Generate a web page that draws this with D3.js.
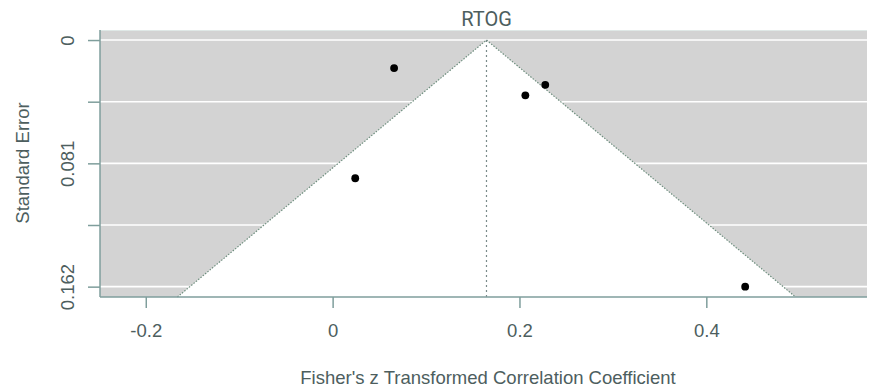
<!DOCTYPE html>
<html>
<head>
<meta charset="utf-8">
<script src="https://cdn.jsdelivr.net/npm/d3@7"></script>
<style>
  html, body { margin: 0; padding: 0; background: #fff; }
  svg { display: block; font-family: "Liberation Sans", Arial, sans-serif; }
</style>
</head>
<body>
<svg id="chart" width="870" height="392"></svg>
<script>
// ---- data ----
const title = "RTOG";
const xLabel = "Fisher's z Transformed Correlation Coefficient";
const yLabel = "Standard Error";
const estimates = [0.0658, 0.2276, 0.2063, 0.0242, 0.4416];
const standardErrors = [0.0184, 0.0294, 0.0363, 0.0908, 0.162];
const pooledEstimate = 0.1647;
const xTicks = [-0.2, 0, 0.2, 0.4];
const xTickLabels = ["-0.2", "0", "0.2", "0.4"];
const yTicks = [0, 0.0405, 0.081, 0.1215, 0.162];
const yTickLabels = ["0", "", "0.081", "", "0.162"];
const xDomain = [-0.249, 0.572];
const yDomain = [-0.0066, 0.1688];

// ---- layout ----
const svg = d3.select("#chart");
const pL = 100, pR = 867, pT = 30, pB = 297;
const x = d3.scaleLinear().domain(xDomain).range([pL, pR]);
const y = d3.scaleLinear().domain(yDomain).range([pT, pB]);
const textColor = "#4d5e5e";
const axisColor = "#7f9e9c";
const fs = 18.5;

// background
svg.append("rect").attr("x", pL).attr("y", pT)
  .attr("width", pR - pL).attr("height", pB - pT)
  .attr("fill", "#d3d3d3");

// gridlines
svg.append("g").selectAll("line").data(yTicks).join("line")
  .attr("x1", pL).attr("x2", pR)
  .attr("y1", d => y(d)).attr("y2", d => y(d))
  .attr("stroke", "#ffffff").attr("stroke-width", 1.6);

// funnel
const seMax = yDomain[1];
const funnel = [
  [pooledEstimate - 1.96 * seMax, seMax],
  [pooledEstimate, 0],
  [pooledEstimate + 1.96 * seMax, seMax]
];
svg.append("path")
  .attr("d", d3.line().x(d => x(d[0])).y(d => y(d[1]))(funnel) + "Z")
  .attr("fill", "#ffffff").attr("stroke", "none");
svg.append("path")
  .attr("d", d3.line().x(d => x(d[0])).y(d => y(d[1]))(funnel))
  .attr("fill", "none").attr("stroke", "#6f8f7f")
  .attr("stroke-width", 1.2).attr("stroke-dasharray", "1.5,1.5");
svg.append("line")
  .attr("x1", x(pooledEstimate)).attr("x2", x(pooledEstimate))
  .attr("y1", y(0)).attr("y2", y(seMax))
  .attr("stroke", "#7a8a8a").attr("stroke-width", 1.2).attr("stroke-dasharray", "2,3");

// top faint border
svg.append("line").attr("x1", pL).attr("x2", pR).attr("y1", pT + 0.5).attr("y2", pT + 0.5)
  .attr("stroke", "#dfe8e6").attr("stroke-width", 1);

// points
svg.append("g").selectAll("circle").data(estimates.map((e, i) => [e, standardErrors[i]])).join("circle")
  .attr("cx", d => x(d[0])).attr("cy", d => y(d[1])).attr("r", 3.9)
  .attr("fill", "#000");

// x axis
const xAxis = svg.append("g").attr("transform", `translate(0,${pB})`)
  .call(d3.axisBottom(x).tickValues(xTicks).tickFormat((d, i) => xTickLabels[i]).tickSize(11).tickPadding(16));
xAxis.select(".domain").attr("stroke", axisColor).attr("stroke-width", 1.5).attr("d", `M${pL},0H${pR}`);
xAxis.selectAll(".tick line").attr("stroke", axisColor).attr("stroke-width", 1.5);
xAxis.selectAll(".tick text").attr("fill", textColor).attr("font-size", fs)
  .attr("font-family", "Liberation Sans, Arial, sans-serif");

// y axis
const yAxis = svg.append("g").attr("transform", `translate(${pL},0)`)
  .call(d3.axisLeft(y).tickValues(yTicks).tickFormat((d, i) => yTickLabels[i]).tickSize(12).tickPadding(0));
yAxis.select(".domain").attr("stroke", axisColor).attr("stroke-width", 1.5).attr("d", `M0,${pT}V${pB}`);
yAxis.selectAll(".tick line").attr("stroke", axisColor).attr("stroke-width", 1.5);
yAxis.selectAll(".tick text")
  .attr("fill", textColor).attr("font-size", fs)
  .attr("font-family", "Liberation Sans, Arial, sans-serif")
  .attr("x", 0).attr("dy", 0)
  .attr("text-anchor", "middle")
  .attr("transform", "translate(-26,0) rotate(-90)");

// title
svg.append("text").attr("x", x(pooledEstimate)).attr("y", 25.5)
  .attr("text-anchor", "middle").attr("fill", textColor)
  .attr("font-size", 20).attr("font-family", "Roboto, sans-serif").text(title);

// x label
svg.append("text").attr("x", 488).attr("y", 384)
  .attr("text-anchor", "middle").attr("fill", textColor)
  .attr("font-size", fs).text(xLabel);

// y label
svg.append("text").attr("transform", `translate(29,163) rotate(-90)`)
  .attr("text-anchor", "middle").attr("fill", textColor)
  .attr("font-size", fs).text(yLabel);
</script>
</body>
</html>
